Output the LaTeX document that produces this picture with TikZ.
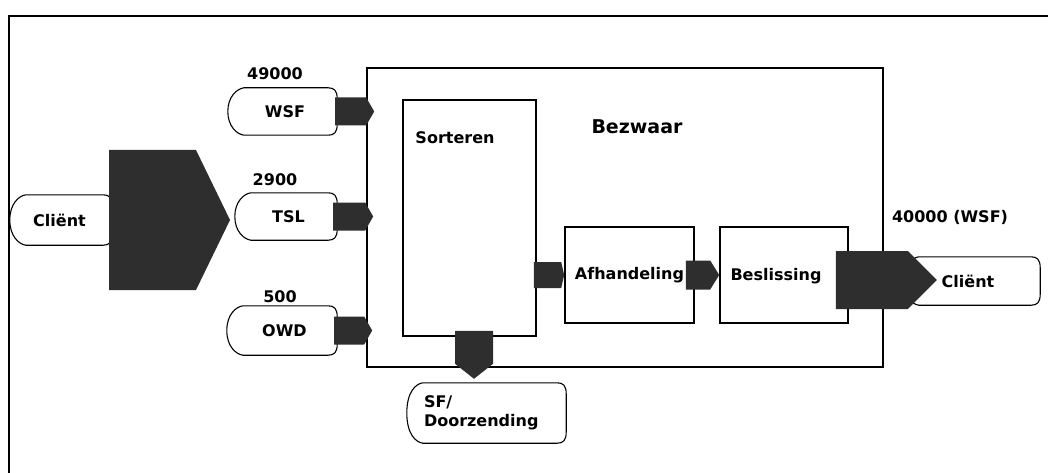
\documentclass[tikz,border=0pt]{standalone}
\usepackage{fontspec}
\setmainfont{DejaVu Sans}
\usetikzlibrary{calc}

\newcommand\entityline[1]{%
  \draw[line width=1.1pt] ([xshift=11pt]#1.north west) -- ([xshift=-9pt]#1.north east)
    .. controls ([xshift=-3pt]#1.north east) and ([yshift=-3pt]#1.north east) .. ([yshift=-11pt]#1.north east)
    -- ([yshift=11pt]#1.south east)
    .. controls ([yshift=3pt]#1.south east) and ([xshift=-3pt]#1.south east) .. ([xshift=-9pt]#1.south east)
    -- ([xshift=11pt]#1.south west)
    .. controls ([xshift=4pt,yshift=1pt]#1.south west) and ([xshift=-5pt,yshift=9pt]#1.south west) .. ([xshift=-5pt]#1.west)
    .. controls ([xshift=-5pt,yshift=-9pt]#1.north west) and ([xshift=4pt,yshift=-1pt]#1.north west) .. cycle;}

\begin{document}
\begin{tikzpicture}[x=1pt,y=-1pt,
lbl/.style={font=\bfseries\fontsize{16}{19}\selectfont},
box/.style={draw,line width=1.6pt,inner sep=0pt},
entity/.style={lbl,inner sep=0pt},
flow/.style 2 args={fill=black!82,to path={let \p1=(\tikztostart),\p2=(\tikztotarget) in
  (\x1,{\y1+#1}) -- ({\x2-#2},{\y1+#1}) -- (\x2,\y1) -- ({\x2-#2},{\y1-#1}) -- (\x1,{\y1-#1}) -- cycle}},
flowdown/.style 2 args={fill=black!82,to path={let \p1=(\tikztostart),\p2=(\tikztotarget) in
  ({\x1+#1},\y1) -- ({\x1+#1},{\y2+#2}) -- (\x1,\y2) -- ({\x1-#1},{\y2+#2}) -- ({\x1-#1},\y1) -- cycle}}]
\useasboundingbox (0,0) rectangle (1048,473);
\draw[line width=1.5pt] (9,490) -- (9,16) -- (1060,16);

\node (bezwaar) [box,minimum width=516pt,minimum height=299pt] at (625,217.5) {};
\node (sorteren) [box,minimum width=133pt,minimum height=236pt] at (469.5,218) {};
\node (afhandeling) [box,lbl,minimum width=129pt,minimum height=96pt] at (629.5,275) {Afhandeling};
\node (beslissing) [box,minimum width=128pt,minimum height=96pt] at (784,275) {};
\node (bezwaartxt) [lbl,font=\bfseries\fontsize{19}{22}\selectfont] at (637,127) {Bezwaar};
\node (sorterentxt) [lbl] at (455,138) {Sorteren};
\node (beslissingtxt) [lbl] at (776,276) {Beslissing};

\node (clientin) [entity,minimum width=97pt,minimum height=50pt] at (63.5,220) {\hspace*{-8pt}Cliënt};
\node (wsf) [entity,minimum width=104pt,minimum height=47pt] at (285,111.5) {WSF};
\node (tsl) [entity,minimum width=97pt,minimum height=47pt] at (288.5,216.5) {TSL};
\node (owd) [entity,minimum width=105pt,minimum height=49pt] at (284.5,330.5) {OWD};
\node (sfd) [entity,minimum width=154pt,minimum height=60pt,text width=130pt,align=left] at (489,413)
  {\fontsize{16}{23}\selectfont SF/\\Doorzending};
\node (clientout) [entity,minimum width=132pt,minimum height=48pt] at (974,281) {\hspace*{-12pt}Cliënt};
\entityline{clientin}
\entityline{wsf}
\entityline{tsl}
\entityline{owd}
\entityline{sfd}
\entityline{clientout}

\node (nwsf) [lbl] at (275,74) {49000};
\node (ntsl) [lbl] at (275,180) {2900};
\node (nowd) [lbl] at (280,297) {500};
\node (nout) [lbl] at (950,217) {40000 (WSF)};

\coordinate (split) at (230,220);
\fill[flow={70pt}{34pt}] ([xshift=-3pt]clientin.east) to (split);
\fill[flow={14pt}{8pt}] ([xshift=-2pt]wsf.east) to ([xshift=8pt]bezwaar.west);
\fill[flow={14pt}{8pt}] ([xshift=-4pt]tsl.east) to ([xshift=7pt]bezwaar.west);
\fill[flow={14pt}{8pt}] ([xshift=-3pt]owd.east) to ([xshift=6pt]bezwaar.west);
\fill[flow={13pt}{3pt}] ([xshift=-3pt]sorteren.east |- afhandeling.west) to (afhandeling.west);
\fill[flow={14.5pt}{9pt}] ([xshift=-9pt]afhandeling.east) to (beslissing.west);
\fill[flow={29pt}{29pt}] ([xshift=-13pt,yshift=-5pt]beslissing.east) to ([xshift=29pt]clientout.west);
\fill[flowdown={19pt}{15pt}] ([xshift=4.5pt,yshift=6pt]sorteren.south) to ([yshift=-11pt]bezwaar.south);
\end{tikzpicture}
\end{document}
